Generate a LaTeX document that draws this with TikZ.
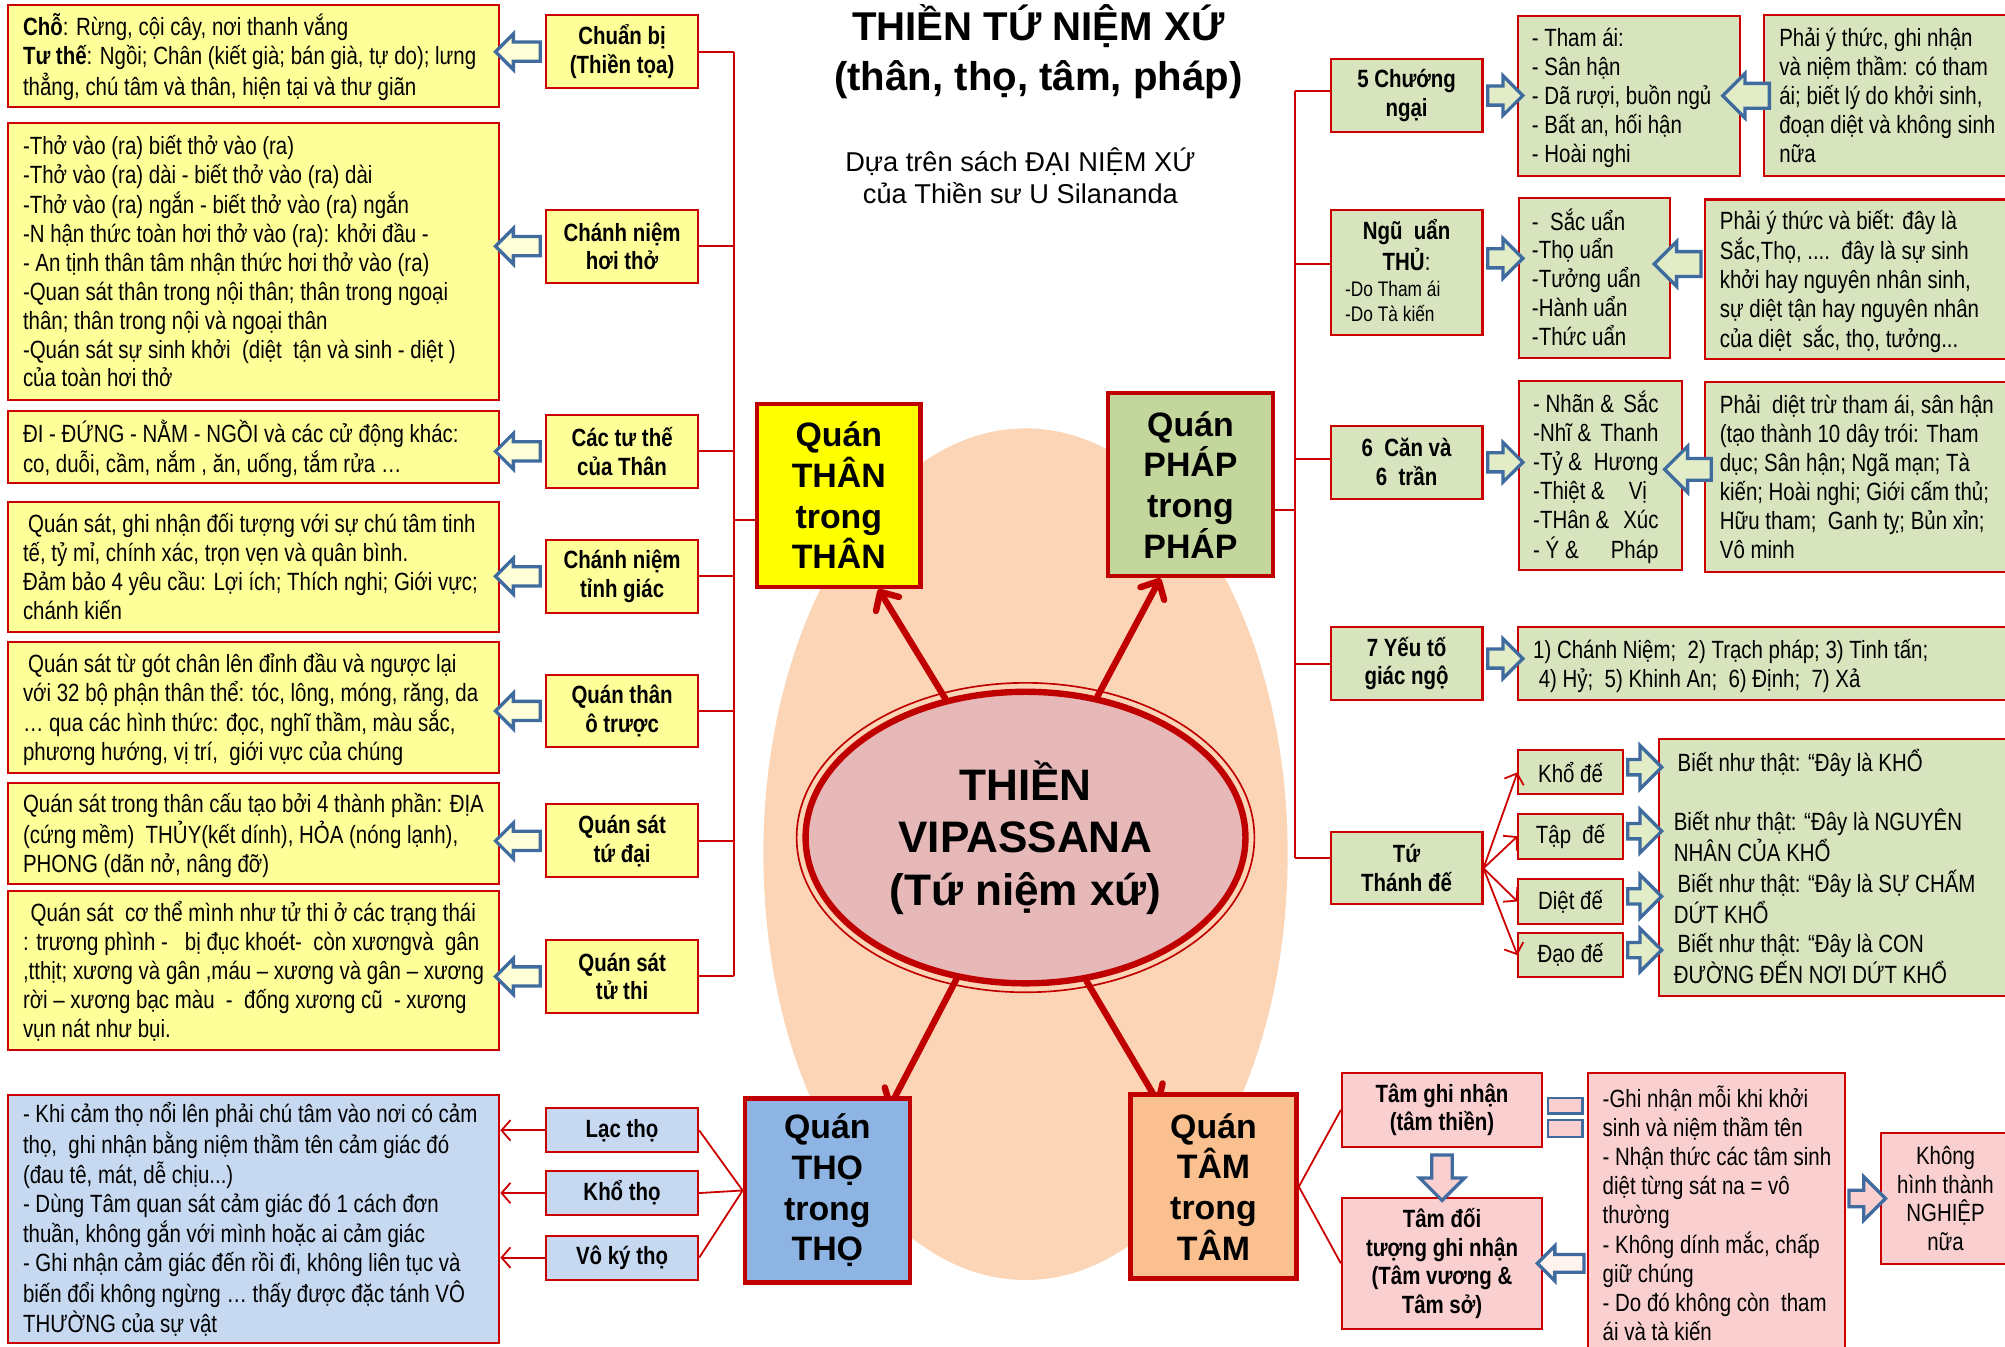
\documentclass[tikz,border=0pt]{standalone}
\usepackage{fontspec}
\setmainfont{Liberation Sans}
\newfontfamily\nf[FakeStretch=0.82]{Liberation Sans}
\usetikzlibrary{shapes.geometric,shapes.arrows,arrows.meta,calc,backgrounds}
\definecolor{bred}{HTML}{CC0000}
\definecolor{dred}{HTML}{C00000}
\definecolor{yel}{HTML}{FFFF99}
\definecolor{grn}{HTML}{D7E4BD}
\definecolor{blu}{HTML}{C6D9F1}
\definecolor{pnk}{HTML}{F9CFCF}
\definecolor{peach}{HTML}{FBD5B5}
\definecolor{corefill}{HTML}{E6B9B8}
\definecolor{qyel}{HTML}{FFFF00}
\definecolor{qgrn}{HTML}{C3D69B}
\definecolor{qblu}{HTML}{8DB4E2}
\definecolor{qorg}{HTML}{FAC090}
\definecolor{ablue}{HTML}{3F6B9F}
\definecolor{ayel}{HTML}{FFFFD8}
\definecolor{agrn}{HTML}{E2EDC8}
\definecolor{apale}{HTML}{FFF3EE}
\newcommand\bxt[2]{\makebox[#1][l]{\raisebox{-2.5pt}[\height][\depth]{\begin{tabular}{@{}l@{}}#2\end{tabular}}}}
\tikzset{
 bx/.style={draw=bred, line width=1.6pt, inner ysep=0pt},
 tbox/.style={bx, inner xsep=11.5pt, font=\nf\fontsize{19.5}{22.6}\selectfont},
 lbox/.style={bx, align=center, inner xsep=0pt, minimum width=119pt, minimum height=57pt, font=\nf\bfseries\fontsize{19.5}{22.4}\selectfont},
 kbox/.style={bx, align=center, inner xsep=0pt, minimum width=81.5pt, minimum height=34.5pt, font=\nf\fontsize{19.5}{22.6}\selectfont},
 qbox/.style={draw=dred, line width=3.5pt, align=center, inner sep=0pt, minimum width=128pt, minimum height=143pt, font=\bfseries\fontsize{26.5}{31.8}\selectfont},
 harrow/.style n args={3}{single arrow, draw=ablue, line width=2.6pt, inner xsep=0pt, inner ysep=#2, minimum height=#1, single arrow head extend=#3, single arrow tip angle=90, anchor=center},
 tree/.style={draw=bred, line width=1.5pt},
 thinr/.style={draw=bred, line width=1.4pt},
 rarrow/.style={draw=bred, line width=1.4pt, -{Straight Barb[length=7pt,width=16pt]}},
 big/.style={draw=dred, line width=5pt, line cap=round, -{Straight Barb[length=11pt,width=21pt,round]}},
 eqbox/.style={draw=ablue, line width=2pt, fill=pnk, minimum width=27pt, inner sep=0pt}
}
\begin{document}
\begin{tikzpicture}[x=1pt,y=-1pt]
\useasboundingbox (0,0) rectangle (1568,1053);

% ---------- title ----------
\node[font=\bfseries\fontsize{31.4}{39.2}\selectfont, align=center] (title) at (812,40.4) {THIỀN TỨ NIỆM XỨ\\(thân, thọ, tâm, pháp)};
\node[font=\fontsize{21.3}{25.3}\selectfont, align=center] (sub) at (798,137.4) {Dựa trên sách ĐẠI NIỆM XỨ\\của Thiền sư U Silananda};

% ---------- left column (THAN) ----------
\node[tbox, fill=yel, minimum height=79.5pt] (A1) at (198.5,43.7) {\bxt{361pt}{\textbf{Chỗ}: Rừng, cội cây, nơi thanh vắng\\\textbf{Tư thế}: Ngồi; Chân (kiết già; bán già, tự do); lưng\\thẳng, chú tâm và thân, hiện tại và thư giãn}};
\node[tbox, fill=yel, minimum height=216.4pt] (A2) at (198.5,204.6) {\bxt{361pt}{-Thở vào (ra) biết thở vào (ra)\\-Thở vào (ra) dài - biết thở vào (ra) dài\\-Thở vào (ra) ngắn - biết thở vào (ra) ngắn\\-N hận thức toàn hơi thở vào (ra): khởi đầu -\\- An tịnh thân tâm nhận thức hơi thở vào (ra)\\-Quan sát thân trong nội thân; thân trong ngoại\\thân; thân trong nội và ngoại thân\\-Quán sát sự sinh khởi\ \ (diệt\ \ tận và sinh - diệt )\\của toàn hơi thở}};
\node[tbox, fill=yel, minimum height=56.5pt] (A3) at (198.5,349.8) {\bxt{361pt}{ĐI - ĐỨNG - NẰM - NGỒI và các cử động khác:\\co, duỗi, cầm, nắm , ăn, uống, tắm rửa …}};
\node[tbox, fill=yel, minimum height=101.4pt] (A4) at (198.5,443.3) {\bxt{361pt}{\hspace{4pt}Quán sát, ghi nhận đối tượng với sự chú tâm tinh\\tế, tỷ mỉ, chính xác, trọn vẹn và quân bình.\\Đảm bảo 4 yêu cầu: Lợi ích; Thích nghi; Giới vực;\\chánh kiến}};
\node[tbox, fill=yel, minimum height=102.5pt] (A5) at (198.5,553.3) {\bxt{361pt}{\hspace{4pt}Quán sát từ gót chân lên đỉnh đầu và ngược lại\\với 32 bộ phận thân thể: tóc, lông, móng, răng, da\\… qua các hình thức: đọc, nghĩ thầm, màu sắc,\\phương hướng, vị trí,\ \ giới vực của chúng}};
\node[tbox, fill=yel, minimum height=79pt] (A6) at (198.5,651.5) {\bxt{361pt}{Quán sát trong thân cấu tạo bởi 4 thành phần: ĐỊA\\(cứng mềm)\ \ THỦY(kết dính), HỎA (nóng lạnh),\\PHONG (dãn nở, nâng đỡ)}};
\node[tbox, fill=yel, minimum height=124pt] (A7) at (198.5,759) {\bxt{361pt}{\hspace{6pt}Quán sát\ \ cơ thể mình như tử thi ở các trạng thái\\: trương phình -\ \ \ bị đục khoét-\ \ còn xươngvà\ \ gân\\,tthịt; xương và gân ,máu – xương và gân – xương\\rời – xương bạc màu\ \ -\ \ đống xương cũ\ \ - xương\\vụn nát như bụi.}};

\node[lbox, fill=yel] (B1) at (486.5,40.4) {Chuẩn bị\\(Thiền tọa)};
\node[lbox, fill=yel] (B2) at (486.5,192.5) {Chánh niệm\\hơi thở};
\node[lbox, fill=yel] (B3) at (486.5,353) {Các tư thế\\của Thân};
\node[lbox, fill=yel] (B4) at (486.5,450.7) {Chánh niệm\\tỉnh giác};
\node[lbox, fill=yel] (B5) at (486.5,556) {Quán thân\\ô trược};
\node[lbox, fill=yel] (B6) at (486.5,657.6) {Quán sát\\tứ đại};
\node[lbox, fill=yel] (B7) at (486.5,763.6) {Quán sát\\tử thi};

\foreach \k in {1,...,7}{
  \node[harrow={35pt}{6.2pt}{6.5pt}, rotate=180, fill=ayel] (hA\k) at ($(B\k.west)!0.5!(A\k.east |- B\k.west)$) {};
}

% ---------- centre ----------
\node[qbox, fill=qyel] (THAN) at (656,387.5) {Quán\\THÂN\\trong\\THÂN};
\node[qbox, fill=qgrn, minimum width=129pt] (PHAP) at (931,379) {Quán\\PHÁP\\trong\\PHÁP};
\node[qbox, fill=qblu, minimum width=129pt, minimum height=144pt] (THO) at (647,931) {Quán\\THỌ\\trong\\THỌ};
\node[qbox, fill=qorg, minimum width=130pt, minimum height=144pt] (TAM) at (949,928) {Quán\\TÂM\\trong\\TÂM};

\node[ellipse, draw=dred, line width=5pt, fill=corefill, minimum width=344pt, minimum height=228pt, inner sep=0pt, align=center, font=\bfseries\fontsize{34.5}{41}\selectfont] (core) at (802,655) {THIỀN\\VIPASSANA\\(Tứ niệm xứ)};
\draw[dred, line width=1.3pt] (core.center) ellipse [x radius=179, y radius=121];

% left tree
\coordinate (sL) at (574,0);
\foreach \k in {1,...,7}{ \draw[tree] (B\k.east) -- (B\k.east -| sL); }
\draw[tree] (B1.east -| sL) -- (B7.east -| sL);
\coordinate (thanIn) at ($(THAN.west)+(0,19.5)$);
\draw[tree] (thanIn) -- (thanIn -| sL);

% ---------- THO section ----------
\node[tbox, fill=blu, minimum height=194pt] (G) at (198.5,953) {\bxt{361pt}{- Khi cảm thọ nổi lên phải chú tâm vào nơi có cảm\\thọ,\ \ ghi nhận bằng niệm thầm tên cảm giác đó\\(đau tê, mát, dễ chịu...)\\- Dùng Tâm quan sát cảm giác đó 1 cách đơn\\thuần, không gắn với mình hoặc ai cảm giác\\- Ghi nhận cảm giác đến rồi đi, không liên tục và\\biến đổi không ngừng … thấy được đặc tánh VÔ\\THƯỜNG của sự vật}};
\node[lbox, fill=blu, minimum height=34.5pt] (L1) at (486.5,884) {Lạc thọ};
\node[lbox, fill=blu, minimum height=34.5pt] (L2) at (486.5,933) {Khổ thọ};
\node[lbox, fill=blu, minimum height=34.5pt] (L3) at (486.5,983.5) {Vô ký thọ};
\foreach \k in {1,2,3}{
  \draw[thinr] (THO.west) -- (L\k.east);
  \draw[rarrow] (L\k.west) -- (L\k.west -| G.east);
}

% ---------- PHAP section ----------
\node[lbox, fill=grn, minimum width=118.7pt, minimum height=56.6pt] (C1) at (1100,74.7) {5 Chướng\\ngại};
\node[lbox, fill=grn, minimum width=118.7pt, minimum height=97.5pt] (C2) at (1100,213) {\raisebox{-2pt}[\height][\depth]{\begin{tabular}{@{}c@{}}Ngũ\ \ uẩn\\THỦ\mdseries:\\[-2.6pt]\fontsize{16.5}{18}\selectfont\mdseries\makebox[96pt][l]{-Do Tham ái}\\[-2.6pt]\fontsize{16.5}{18}\selectfont\mdseries\makebox[96pt][l]{-Do Tà kiến}\end{tabular}}};
\node[lbox, fill=grn, minimum width=118.7pt] (C3) at (1100,361.5) {6\ \ Căn và\\6\ \ trần};
\node[lbox, fill=grn, minimum width=118.7pt] (C4) at (1100,519) {7 Yếu tố\\giác ngộ};
\node[lbox, fill=grn, minimum width=118.7pt, minimum height=56.5pt] (C5) at (1100,679) {Tứ\\Thánh đế};

\node[tbox, inner xsep=10.5pt, fill=grn, minimum height=125pt] (D1) at (1274.3,74.9) {\bxt{152.6pt}{- Tham ái:\\- Sân hận\\- Dã rượi, buồn ngủ\\- Bất an, hối hận\\- Hoài nghi}};
\node[tbox, inner xsep=12pt, fill=grn, minimum height=125.7pt] (E1) at (1475.75,74.6) {\bxt{168.5pt}{Phải ý thức, ghi nhận\\và niệm thầm: có tham\\ái; biết lý do khởi sinh,\\đoạn diệt và không sinh\\nữa}};
\node[tbox, inner xsep=10.5pt, fill=grn, minimum height=125pt] (D2) at (1246.8,217.5) {\bxt{97.5pt}{-\ \ Sắc uẩn\\-Thọ uẩn\\-Tưởng uẩn\\-Hành uẩn\\-Thức uẩn}};
\node[tbox, fill=grn, minimum height=125pt] (E2) at (1452.75,218.5) {\bxt{215.5pt}{Phải ý thức và biết: đây là\\Sắc,Thọ, ....\ \ đây là sự sinh\\khởi hay nguyên nhân sinh,\\sự diệt tận hay nguyên nhân\\của diệt\ \ sắc, thọ, tưởng...}};
\node[tbox, fill=grn, minimum height=148pt] (D3) at (1251.3,372) {\bxt{104.5pt}{\makebox[60pt][l]{- Nhãn \&}\makebox[38pt][r]{Sắc}\\\makebox[60pt][l]{-Nhĩ \&}\makebox[38pt][r]{Thanh}\\\makebox[60pt][l]{-Tỷ \&}\makebox[38pt][r]{Hương}\\\makebox[60pt][l]{-Thiệt \&}\makebox[38pt][r]{Vị\hspace{9pt}}\\\makebox[60pt][l]{-THân \&}\makebox[38pt][r]{Xúc}\\\makebox[60pt][l]{- Ý \&}\makebox[38pt][r]{Pháp}}};
\node[tbox, fill=grn, minimum height=148pt] (E3) at (1452.75,373) {\bxt{215.5pt}{Phải\ \ diệt trừ tham ái, sân hận\\(tạo thành 10 dây trói: Tham\\dục; Sân hận; Ngã mạn; Tà\\kiến; Hoài nghi; Giới cấm thủ;\\Hữu tham;\ \ Ganh tỵ; Bủn xỉn;\\Vô minh}};
\node[tbox, fill=grn, minimum height=57pt] (D4) at (1379.75,519) {\bxt{361.5pt}{1) Chánh Niệm;\ \ 2) Trạch pháp; 3) Tinh tấn;\\\ 4) Hỷ;\ \ 5) Khinh An;\ \ 6) Định;\ \ 7) Xả}};
\node[kbox, fill=grn] (K1) at (1228.25,604) {Khổ đế};
\node[kbox, fill=grn, minimum height=35pt] (K2) at (1228.25,654) {Tập\ \ đế};
\node[kbox, fill=grn, minimum height=35pt] (K3) at (1228.25,705) {Diệt đế};
\node[kbox, fill=grn, minimum height=34pt] (K4) at (1228.25,747) {Đạo đế};
\node[tbox, fill=grn, minimum height=201pt] (F) at (1434.75,678.5) {\bxt{251.5pt}{\hspace{3pt}Biết như thật: “Đây là KHỔ\\[22.6pt]Biết như thật: “Đây là NGUYÊN\\NHÂN CỦA KHỔ\\\hspace{3pt}Biết như thật: “Đây là SỰ CHẤM\\DỨT KHỔ\\\hspace{3pt}Biết như thật: “Đây là CON\\ĐƯỜNG ĐẾN NƠI DỨT KHỔ}};

% right tree
\coordinate (sR) at (1013,0);
\coordinate (c1in) at ($(C1.west)+(0,-3.5)$);
\coordinate (c2in) at ($(C2.west)+(0,-6.5)$);
\coordinate (c3in) at ($(C3.west)+(0,-2.5)$);
\coordinate (c4in) at (C4.west);
\coordinate (c5in) at ($(C5.west)+(0,-8)$);
\foreach \c in {c1in,c2in,c3in,c4in,c5in}{ \draw[tree] (\c) -- (\c -| sR); }
\draw[tree] (c1in -| sR) -- (c5in -| sR);
\coordinate (phapOut) at ($(PHAP.east)+(0,20)$);
\draw[tree] (phapOut) -- (phapOut -| sR);

% hollow arrows right side
\node[harrow={27.5pt}{6.2pt}{8pt}, fill=agrn] (hC1) at ($(C1.east)!0.5!(D1.west |- C1.east)$) {};
\node[harrow={27.5pt}{6.2pt}{8pt}, fill=agrn] (hC2) at ($(C2.east)!0.5!(D2.west |- C2.east)+(0,-11)$) {};
\node[harrow={27.5pt}{6.2pt}{8pt}, fill=agrn] (hC3) at ($(C3.east)!0.5!(D3.west |- C3.east)$) {};
\node[harrow={27.5pt}{6.2pt}{8pt}, fill=agrn] (hC4) at ($(C4.east)!0.5!(D4.west |- C4.east)+(0,-4)$) {};
\node[harrow={36.5pt}{8.4pt}{7.8pt}, rotate=180, fill=agrn] (hE1) at ($(D1.east)!0.5!(E1.west |- D1.east)$) {};
\node[harrow={36.5pt}{8.4pt}{7.8pt}, rotate=180, fill=agrn] (hE2) at ($(D2.east)!0.5!(E2.west |- D2.east)+(-3,-11)$) {};
\node[harrow={36.5pt}{7.2pt}{9.5pt}, rotate=180, fill=agrn] (hE3) at ($(D3.east)!0.5!(E3.west |- D3.east)+(0,-5)$) {};
\foreach \k in {1,...,4}{
  \draw[rarrow] (C5.east) -- (K\k.west);
  \node[harrow={26.5pt}{4.7pt}{11pt}, fill=agrn] (hK\k) at ($(K\k.east)!0.5!(F.west |- K\k.east)+(0,-4)$) {};
}

% ---------- TAM section ----------
\node[lbox, fill=pnk, minimum width=156.6pt, minimum height=58pt] (T1) at (1127.7,868) {Tâm ghi nhận\\(tâm thiền)};
\node[lbox, fill=pnk, minimum width=156.6pt, minimum height=102pt] (T2) at (1127.7,988) {Tâm đối\\tượng ghi nhận\\(Tâm vương \&\\Tâm sở)};
\node[tbox, inner xsep=11.4pt, fill=pnk, minimum height=221pt] (P) at (1342.5,949.5) {\bxt{178.2pt}{-Ghi nhận mỗi khi khởi\\sinh và niệm thầm tên\\- Nhận thức các tâm sinh\\diệt từng sát na = vô\\thường\\- Không dính mắc, chấp\\giữ chúng\\- Do đó không còn\ \ tham\\ái và tà kiến}};
\node[bx, fill=pnk, align=center, inner xsep=0pt, minimum width=101pt, minimum height=102.5pt, font=\nf\fontsize{19.5}{22.4}\selectfont] (N) at (1521.5,937.25) {Không\\hình thành\\NGHIỆP\\nữa};
\node[eqbox, minimum height=12.4pt] (EQ1) at (1224,864.8) {};
\node[eqbox, minimum height=13pt] (EQ2) at (1224,882.5) {};
\draw[thinr] (TAM.east) -- (T1.west);
\draw[thinr] (TAM.east) -- (T2.west);
\node[harrow={35.5pt}{6.7pt}{9.5pt}, rotate=270, fill=pnk] (hT) at ($(T1.south)!0.5!(T2.north)$) {};
\node[harrow={36.5pt}{5.7pt}{6.7pt}, rotate=180, fill=apale] (hP) at ($(T2.east)!0.5!(P.west |- T2.east)$) {};
\node[harrow={28.5pt}{5.2pt}{10.5pt}, fill=pnk] (hN) at ($(P.east |- N.west)!0.5!(N.west)$) {};

% ---------- background layer ----------
\begin{pgfonlayer}{background}
\fill[white] (0,0) rectangle (1568,1053);
\fill[peach] (802,668) ellipse [x radius=205, y radius=333];
\draw[big] (core.120) -- ($(THAN.south)+(31,0)$);
\draw[big] (core.63) -- ($(PHAP.south)+(-23.5,0)$);
\draw[big] (core.244) -- ($(THO.north)+(48,10)$);
\draw[big] (core.293) -- ($(TAM.north)+(-42,10)$);
\end{pgfonlayer}
\end{tikzpicture}
\end{document}
